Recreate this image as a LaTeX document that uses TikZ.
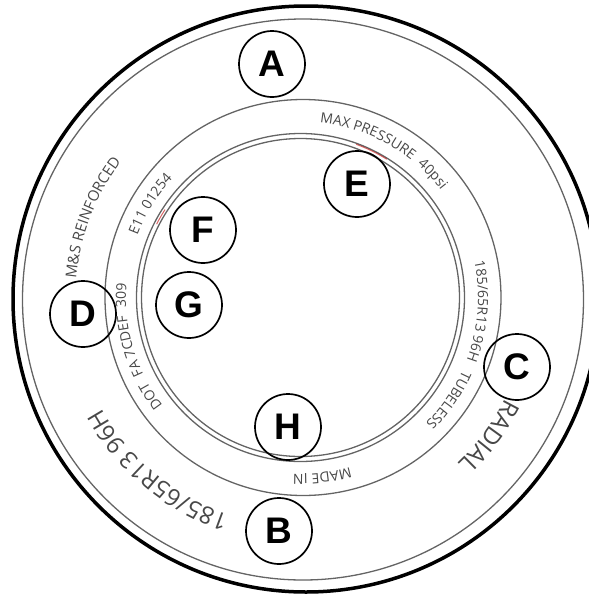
\documentclass[tikz,border=0pt]{standalone}
\usepackage{fontspec}
\setmainfont{Liberation Sans}
\newfontfamily\tirefont{Open Sans}
\usetikzlibrary{decorations.text}
\definecolor{tiregray}{RGB}{72,72,72}
\definecolor{ringgray}{RGB}{100,100,100}
\newcommand\tireS{\tirefont\fontsize{14}{14}\selectfont\color{tiregray}}
\newcommand\tireM{\tirefont\fontsize{15}{15}\selectfont\color{tiregray}}
\newcommand\tireL{\tirefont\fontsize{24}{24}\selectfont\color{tiregray}}
\begin{document}
\begin{tikzpicture}[x=1pt,y=1pt,
  ring/.style={draw=ringgray, line width=1.3pt},
  lbl/.style={circle, draw=black, line width=1.7pt, minimum size=66pt, inner sep=0pt,
    font=\bfseries\fontsize{37}{37}\selectfont},
  tiretext/.style={decorate, decoration={text along path, text align=center, text={#1}}}]
\useasboundingbox (0,-595) rectangle (589,0);

% tyre rings
\draw[line width=3.5pt] (306,-299) circle[radius=293];
\draw[ring] (303,-299.5) circle[radius=280.5];
\draw[ring] (303,-297.5) circle[radius=198];
\draw[ring] (300.5,-297.5) circle[radius=164];
\draw[ring] (300.5,-297.5) circle[radius=159];

% small red marks
\begin{scope}[shift={(300.5,-297.5)}]
  \draw[red!75!black, line width=1pt, opacity=0.6] (70:163) arc[start angle=70, end angle=58, radius=163];
  \draw[red!75!black, line width=1pt, opacity=0.6] (153:161.5) arc[start angle=153, end angle=147, radius=161.5];
\end{scope}

% sidewall text
\begin{scope}[shift={(302,-298)}]
  \path[tiretext={|\tireS|MAX PRESSURE{\hspace*{4pt}} 40psi}] (121:176) arc[start angle=121, end angle=1, radius=176];
  \path[tiretext={|\tireS|185/65R13 96H}] (55.6:176) arc[start angle=55.6, end angle=-64.4, radius=176];
  \path[tiretext={|\tireS|TUBELESS}] (25.2:176) arc[start angle=25.2, end angle=-94.8, radius=176];
  \path[tiretext={|\tireS|MADE IN}] (-23.5:176) arc[start angle=-23.5, end angle=-143.5, radius=176];
  \path[tiretext={|\tireS|DOT{\hspace*{4pt}} FA 7CDEF{\hspace*{4pt}} 309}] (256.5:176) arc[start angle=256.5, end angle=136.5, radius=176];
  \path[tiretext={|\tireS|E11 01254}] (208.2:176) arc[start angle=208.2, end angle=88.2, radius=176];
  \path[tiretext={|\tireM|M{\&}S REINFORCED}] (219:226.5) arc[start angle=219, end angle=99, radius=226.5];
  \path[tiretext={|\tireL|185/65R13 96H}] (290.1:229) arc[start angle=290.1, end angle=170.1, radius=229];
  \path[tiretext={|\tireL|RADIAL}] (23.5:227) arc[start angle=23.5, end angle=-96.5, radius=227];
\end{scope}

% labels
\node[lbl] (A) at (272,-64) {A};
\node[lbl] (B) at (279,-531) {B};
\node[lbl] (C) at (517,-367) {C};
\node[lbl] (D) at (83,-314) {D};
\node[lbl] (E) at (357,-184) {E};
\node[lbl] (F) at (203,-230) {F};
\node[lbl] (G) at (189,-305) {G};
\node[lbl] (H) at (288,-427) {H};
\end{tikzpicture}
\end{document}
